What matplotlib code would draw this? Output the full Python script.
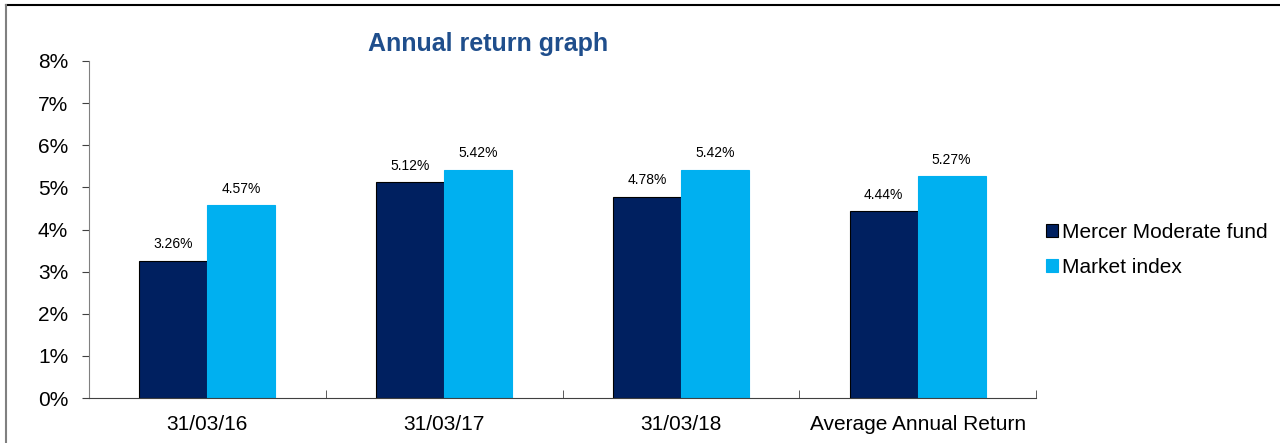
import numpy as np
import matplotlib
matplotlib.use("Agg")
from matplotlib import pyplot as plt
from matplotlib.lines import Line2D

plt.rcParams['font.family'] = ['Liberation Sans', 'DejaVu Sans']

categories = ['31/03/16', '31/03/17', '31/03/18', 'Average Annual Return']
fund = [3.26, 5.12, 4.78, 4.44]
market = [4.57, 5.42, 5.42, 5.27]
series_names = ['Mercer Moderate fund', 'Market index']

dark = '#002060'
light = '#00B0F0'

fig = plt.figure(figsize=(12.8, 4.43), dpi=100)
ax = fig.add_axes([89/1280, 1 - 398/443, (1036 - 89)/1280, (398 - 61)/443])

x = np.arange(len(categories))
w = 0.287
b1 = ax.bar(x - w/2, fund, w, color=dark, edgecolor='black', linewidth=0.8, label=series_names[0])
b2 = ax.bar(x + w/2, market, w, color=light, edgecolor=light, linewidth=0.8, label=series_names[1])

for bars, vals in ((b1, fund), (b2, market)):
    for r, v in zip(bars, vals):
        ax.text(r.get_x() + r.get_width()/2, v + 0.22, '%.2f%%' % v,
                ha='center', va='bottom', fontsize=10)

ax.set_xlim(-0.5, len(categories) - 0.5)
ax.set_ylim(0, 8)
ax.set_yticks(range(0, 9))
ax.set_yticklabels(['%d%%' % i for i in range(0, 9)], fontsize=15)
ax.set_xticks(x)
ax.set_xticklabels(categories, fontsize=15)
ax.set_xticks(np.arange(-0.5, len(categories)), minor=True)
ax.tick_params(axis='x', which='major', length=0, pad=12)
ax.tick_params(axis='x', which='minor', length=6, direction='in', color='#404040')
ax.tick_params(axis='y', length=5, direction='out', color='#404040', pad=10)
for s in ('top', 'right'):
    ax.spines[s].set_visible(False)
ax.spines['left'].set_color('#808080')
ax.spines['bottom'].set_color('#404040')

fig.text(488/1280, 1 - 44/443, 'Annual return graph', ha='center', va='center',
         fontsize=18, fontweight='bold', color='#1F4E8C')

leg = fig.legend(handles=[b1, b2], loc='center left', bbox_to_anchor=(1027/1280, 1 - 250/443),
                 frameon=False, fontsize=15, handlelength=0.6, handleheight=0.6,
                 handletextpad=0.2, labelspacing=0.75)

# outer frame: only top and left edges are visible
x0, y0 = 6/1280, 1 - 5/443
fig.add_artist(Line2D([x0, 1], [y0, y0], transform=fig.transFigure, color='black', lw=1.5))
fig.add_artist(Line2D([x0, x0], [0, y0], transform=fig.transFigure, color='#808080', lw=1.5))

fig.savefig('out.png', dpi=100)
